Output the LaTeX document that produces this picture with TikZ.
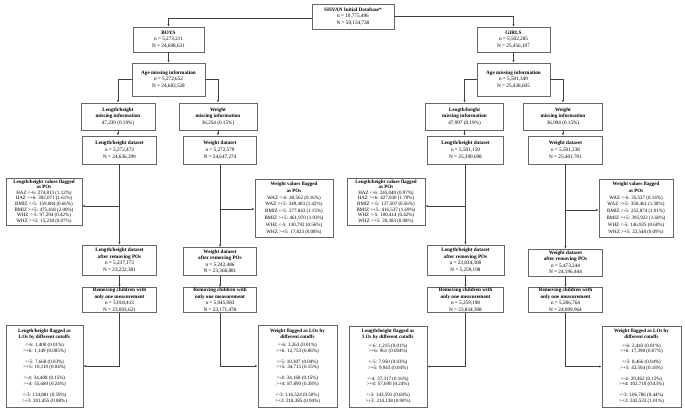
\documentclass[tikz,border=0pt]{standalone}
\usepackage{fontspec}
\setmainfont{Liberation Serif}
\usetikzlibrary{arrows.meta}
\begin{document}
\begin{tikzpicture}[x=1pt,y=-1pt,
 box/.style={draw=black!60, line width=0.7pt, fill=white, align=center, inner sep=0pt, font=\fontsize{5.2}{6.6}\selectfont},
 flagL/.style={box, font=\fontsize{5}{5.6}\selectfont},
 flagW/.style={box, font=\fontsize{5}{6.8}\selectfont},
 lobox/.style={box, font=\fontsize{5}{5.6}\selectfont},
 arr/.style={draw=black!75, line width=0.6pt, -{Latex[length=2.6pt,width=2.2pt]}},
 ln/.style={draw=black!75, line width=0.6pt}]
\useasboundingbox (0,0) rectangle (685,413);

% top
\node[box, minimum width=82pt, minimum height=25pt] (db) at (353,16.5) {\textbf{SISVAN Initial Database*}\\n = 10,775,496\\N = 50,154,738};
\node[box, minimum width=71pt, minimum height=25pt] (boys) at (168.5,39.5) {\textbf{BOYS}\\n = 5,273,211\\N = 24,698,631};
\node[box, minimum width=73pt, minimum height=25pt] (girls) at (513.5,39.5) {\textbf{GIRLS}\\n = 5,502,285\\N = 25,456,107};
\node[box, minimum width=73pt, minimum height=33pt] (ageb) at (168.5,79.5) {\textbf{Age missing information}\\n = 5,272,652\\N = 24,683,528};
\node[box, minimum width=73pt, minimum height=33pt] (ageg) at (513.5,79.5) {\textbf{Age missing information}\\n = 5,501,349\\N = 25,438,605};

% missing
\node[box, minimum width=74pt, minimum height=27pt] (lmb) at (118,116.5) {\textbf{Length/height}\\\textbf{missing information}\\47,239 (0.19\%)};
\node[box, minimum width=78pt, minimum height=27pt] (wmb) at (218,116.5) {\textbf{Weight}\\\textbf{missing information}\\36,254 (0.15\%)};
\node[box, minimum width=78pt, minimum height=27pt] (lmg) at (464.5,116.5) {\textbf{Length/height}\\\textbf{missing information}\\47,997 (0.19\%)};
\node[box, minimum width=79pt, minimum height=27pt] (wmg) at (563,116.5) {\textbf{Weight}\\\textbf{missing information}\\36,994 (0.15\%)};

% datasets
\node[box, minimum width=74pt, minimum height=28pt] (ldb) at (119.5,150) {\textbf{Length/height dataset}\\n = 5,272,473\\N = 24,636,299};
\node[box, minimum width=73pt, minimum height=28pt] (wdb) at (220,150) {\textbf{Weight dataset}\\n = 5,272,579\\N = 24,647,274};
\node[box, minimum width=76pt, minimum height=28pt] (ldg) at (465.5,150) {\textbf{Length/height dataset}\\n = 5,501,159\\N = 25,390,698};
\node[box, minimum width=74pt, minimum height=28pt] (wdg) at (565.5,150) {\textbf{Weight dataset}\\n = 5,501,238\\N = 25,401,701};

% flagged POs
\node[flagL, minimum width=76pt, minimum height=47pt] (lfb) at (44,201.5) {\textbf{Length/height values flagged}\\\textbf{as POs}\\HAZ <-6: 274,813 (1.12\%)\\HAZ >+6: 392,071 (1.61\%)\\BMIZ <-5: 159,084 (0.66\%)\\BMIZ >+5: 475,418 (2.00\%)\\WHZ <-5: 97,294 (0.42\%)\\WHZ >+5: 15,238 (0.07\%)};
\node[flagW, minimum width=78pt, minimum height=58pt] (wfb) at (294,208) {\textbf{Weight values flagged}\\\textbf{as POs}\\WAZ <-6: 40,562 (0.16\%)\\WAZ >+5: 349,403 (1.42\%)\\BMIZ <-5: 277,843 (1.15\%)\\BMIZ >+5: 461,970 (1.93\%)\\WHZ <-5: 130,792 (0.56\%)\\WHZ >+5: 17,823 (0.08\%)};
\node[flagL, minimum width=78pt, minimum height=47pt] (lfg) at (386,201.5) {\textbf{Length/height values flagged}\\\textbf{as POs}\\HAZ <-6: 245,040 (0.97\%)\\HAZ >+6: 427,030 (1.70\%)\\BMIZ <-5: 137,507 (0.56\%)\\BMIZ >+5: 416,537 (1.69\%)\\WHZ <-5: 100,414 (0.42\%)\\WHZ >+5: 20,383 (0.08\%)};
\node[flagW, minimum width=74pt, minimum height=58pt] (wfg) at (636,208) {\textbf{Weight values flagged}\\\textbf{as POs}\\WAZ <-6: 35,527 (0.14\%)\\WAZ >+5: 350,461 (1.38\%)\\BMIZ <-5: 252,874 (1.01\%)\\BMIZ >+5: 395,922 (1.60\%)\\WHZ <-5: 146,925 (0.60\%)\\WHZ >+5: 22,548 (0.09\%)};

% after removing POs
\node[box, minimum width=74pt, minimum height=30pt] (lab) at (119.5,260) {\textbf{Length/height dataset}\\\textbf{after removing POs}\\n = 5,237,173\\N = 23,222,381};
\node[box, minimum width=73pt, minimum height=28pt] (wab) at (220,261.5) {\textbf{Weight dataset}\\\textbf{after removing POs}\\n = 5,242,486\\N = 23,368,881};
\node[box, minimum width=77pt, minimum height=30pt] (lag) at (465.5,260) {\textbf{Length/height dataset}\\\textbf{after removing POs}\\n = 23,834,308\\N = 5,259,198};
\node[box, minimum width=74pt, minimum height=27pt] (wag) at (565.5,262.5) {\textbf{Weight dataset}\\\textbf{after removing POs}\\n = 5,473,244\\N = 24,196,444};

% removing children
\node[box, minimum width=74pt, minimum height=25pt] (rlb) at (119.5,300) {\textbf{Removing children with}\\\textbf{only one measurement}\\n = 5,018,413\\N = 23,003,621};
\node[box, minimum width=73pt, minimum height=25pt] (rwb) at (220,300) {\textbf{Removing children with}\\\textbf{only one measurement}\\n = 5,045,083\\N = 23,171,478};
\node[box, minimum width=76pt, minimum height=25pt] (rlg) at (465.5,300) {\textbf{Removing children with}\\\textbf{only one measurement}\\n = 5,259,198\\N = 23,834,308};
\node[box, minimum width=74pt, minimum height=25pt] (rwg) at (565.5,300) {\textbf{Removing children with}\\\textbf{only one measurement}\\n = 5,286,764\\N = 24,009,964};

% LOs
\node[lobox, minimum width=77pt, minimum height=82pt] (olb) at (44.5,366) {\textbf{Length/height flagged as}\\\textbf{LOs by different cutoffs}\\[3pt]<-6: 1,400 (0.01\%)\\>+6: 1,149 (0.005\%)\\[5.4pt]<-5: 7,668 (0.03\%)\\>+5: 10,110 (0.04\%)\\[5.4pt]<-4: 34,408 (0.15\%)\\>+4: 55,689 (0.24\%)\\[5.4pt]<-3: 134,881 (0.59\%)\\>+3: 201,455 (0.88\%)};
\node[lobox, minimum width=79pt, minimum height=82pt] (owb) at (297.5,366) {\textbf{Weight flagged as LOs by}\\\textbf{different cutoffs}\\[3pt]<-6: 3,263 (0.01\%)\\>+6: 12,753 (0.06\%)\\[5.4pt]<-5: 10,307 (0.04\%)\\>+5: 34,715 (0.15\%)\\[5.4pt]<-4: 34,168 (0.15\%)\\>+4: 87,890 (0.38\%)\\[5.4pt]<-3: 116,524 (0.50\%)\\>+3: 218,385 (0.94\%)};
\node[lobox, minimum width=78pt, minimum height=81pt] (olg) at (388,366.5) {\textbf{Length/height flagged as}\\\textbf{LOs by different cutoffs}\\[3pt]<-6: 1,215 (0.01\%)\\>+6: 961 (0.004\%)\\[5.4pt]<-5: 7,950 (0.03\%)\\>+5: 9,943 (0.04\%)\\[5.4pt]<-4: 37,317 (0.16\%)\\>+4: 57,690 (0.24\%)\\[5.4pt]<-3: 143,591 (0.60\%)\\>+3: 214,138 (0.90\%)};
\node[lobox, minimum width=79pt, minimum height=81pt] (owg) at (641.5,366.5) {\textbf{Weight flagged as LOs by}\\\textbf{different cutoffs}\\[3pt]<-6: 2,443 (0.01\%)\\>+6: 17,398 (0.07\%)\\[5.4pt]<-5: 8,466 (0.04\%)\\>+5: 43,504 (0.18\%)\\[5.4pt]<-4: 29,462 (0.12\%)\\>+4: 102,710 (0.43\%)\\[5.4pt]<-3: 106,786 (0.44\%)\\>+3: 242,533 (1.01\%)};

% connectors
\draw[arr] ([yshift=-2pt]db.west) -| (boys.north);
\draw[arr] (db.east) -| (girls.north);
\draw[arr] (boys.south) -- (ageb.north);
\draw[arr] (girls.south) -- (ageg.north);
\draw[arr] (ageb.west) -| (lmb.north);
\draw[arr] (ageb.east) -| (wmb.north);
\draw[arr] (ageg.west) -| (lmg.north);
\draw[arr] (ageg.east) -| (wmg.north);
\draw[arr] (lmb.south) -- (lmb.south |- ldb.north);
\draw[arr] (wmb.south) -- (wmb.south |- wdb.north);
\draw[arr] (lmg.south) -- (lmg.south |- ldg.north);
\draw[arr] (wmg.south) -- (wmg.south |- wdg.north);

\draw[arr] (ldb.south) -- (lab.north);
\draw[arr] (wdb.south) -- (wab.north);
\draw[arr] (ldg.south) -- (lag.north);
\draw[arr] (wdg.south) -- (wag.north);
\draw[arr] (ldb.south |- 0,206) -- (lfb.east |- 0,206);
\draw[arr] (wdb.south |- 0,209) -- (wfb.west |- 0,209);
\draw[arr] (ldg.south |- 0,206) -- (lfg.east |- 0,206);
\draw[arr] (wdg.south |- 0,210) -- (wfg.west |- 0,210);

\draw[arr] (lab.south) -- (rlb.north);
\draw[arr] (wab.south) -- (rwb.north);
\draw[arr] (lag.south) -- (rlg.north);
\draw[arr] (wag.south) -- (rwg.north);

\draw[arr] (rlb.south) |- (olb.east);
\draw[arr] (rwb.south) |- (owb.west);
\draw[arr] (rlg.south) |- (olg.east);
\draw[arr] (rwg.south) |- (owg.west);
\end{tikzpicture}
\end{document}
